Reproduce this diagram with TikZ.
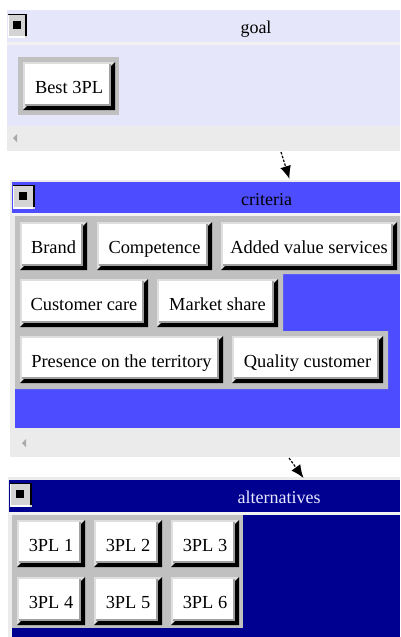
\documentclass[tikz,border=0pt]{standalone}
\usepackage{fontspec}
\setmainfont{Liberation Serif}
\usetikzlibrary{arrows.meta}

\definecolor{lav}{HTML}{E6E6FA}
\definecolor{frame}{HTML}{EBEBEB}
\definecolor{sepline}{HTML}{F2F2F2}
\definecolor{critblue}{HTML}{4D4DFF}
\definecolor{altblue}{HTML}{000090}
\definecolor{holder}{HTML}{C0C0C0}
\definecolor{btnlight}{HTML}{DEDEDE}
\definecolor{btnmid}{HTML}{A0A0A0}
\definecolor{minface}{HTML}{D4D4D4}
\definecolor{scrolltip}{HTML}{A8A8A8}
\definecolor{alttext}{HTML}{E8E8FF}

\tikzset{
  % raised push button with a thick dark shadow on the lower right
  btn/.style={fill=white, inner sep=0pt, text height=15pt, text depth=0pt,
    font=\fontsize{18.4}{21}\selectfont, text=black,
    path picture={
      \fill[btnlight] (path picture bounding box.south west) rectangle (path picture bounding box.north east);
      \fill[black] (path picture bounding box.south west)
        -- (path picture bounding box.south east)
        -- (path picture bounding box.north east)
        -- ([xshift=-4pt,yshift=-4pt]path picture bounding box.north east)
        -- ([xshift=-4pt,yshift=4pt]path picture bounding box.south east)
        -- ([xshift=4pt,yshift=4pt]path picture bounding box.south west) -- cycle;
      \fill[btnmid] ([xshift=2pt,yshift=-2pt]path picture bounding box.north west)
        rectangle ([xshift=-4pt,yshift=4pt]path picture bounding box.south east);
      \fill[white] ([xshift=2pt,yshift=-2pt]path picture bounding box.north west)
        rectangle ([xshift=-6pt,yshift=6pt]path picture bounding box.south east);
    }},
  % small window button in each title bar
  minibtn/.style={fill=minface, inner sep=0pt, minimum height=24pt,
    path picture={
      \fill[black] ([yshift=2pt]path picture bounding box.south west)
        rectangle (path picture bounding box.north east);
      \fill[white] (path picture bounding box.south west)
        rectangle ([xshift=-2pt,yshift=-1pt]path picture bounding box.north east);
      \fill[minface] ([xshift=1pt,yshift=2pt]path picture bounding box.south west)
        rectangle ([xshift=-2pt,yshift=-1pt]path picture bounding box.north east);
      \fill[black] ([xshift=-5pt,yshift=-3pt]path picture bounding box.center)
        rectangle ([xshift=3pt,yshift=5pt]path picture bounding box.center);
    }},
  title/.style={anchor=base, inner sep=0pt, font=\fontsize{18}{21}\selectfont},
  link/.style={draw=black, line width=1.2pt, dash pattern=on 2.5pt off 1.5pt,
    -{Latex[length=13pt,width=11pt]}}
}

\begin{document}
\begin{tikzpicture}[x=1pt,y=-1pt]
\useasboundingbox (0,0) rectangle (400,637);
\fill[white] (0,0) rectangle (400,637);

% ---------- goal panel ----------
\fill[frame] (7,10) rectangle (400,151);
\fill[lav] (7,10) rectangle (400,42);
\fill[sepline] (7,42) rectangle (400,45);
\fill[lav] (7,45) rectangle (400,126);
\fill[scrolltip] (13,138) -- (17,134) -- (17,142) -- cycle;
\node[minibtn, minimum width=19pt] (goalbtn) at (17.5,25.5) {};
\node[title] (goaltitle) at (256,33) {goal};
\fill[holder] (18,57) rectangle (119,115);
\node[btn, minimum width=92pt, minimum height=48pt] (best) at (69,86) {Best 3PL};

% ---------- criteria panel ----------
\fill[frame] (10,180) rectangle (400,457);
\fill[critblue] (12,182) rectangle (400,213);
\fill[sepline] (12,213) rectangle (400,216);
\fill[critblue] (15,216) rectangle (400,428);
\fill[scrolltip] (22,443) -- (26,439) -- (26,447) -- cycle;
\node[minibtn, minimum width=22pt] (critbtn) at (24,197) {};
\node[title] (crittitle) at (266.5,205) {criteria};
\fill[holder] (15,216) -- (400,216) -- (400,274) -- (283,274) -- (283,331)
  -- (388,331) -- (388,389) -- (15,389) -- cycle;
\node[btn, minimum width=67pt, minimum height=48pt] (brand) at (53.5,246) {Brand};
\node[btn, minimum width=115pt, minimum height=48pt] (comp) at (154.5,246) {Competence};
\node[btn, minimum width=176pt, minimum height=48pt] (added) at (309,246) {Added value services};
\node[btn, minimum width=128pt, minimum height=48pt] (care) at (84,303) {Customer care};
\node[btn, minimum width=121pt, minimum height=48pt] (share) at (217.5,303) {Market share};
\node[btn, minimum width=203pt, minimum height=47pt] (presence) at (121.5,359.5) {Presence on the territory};
\node[btn, minimum width=151pt, minimum height=47pt] (quality) at (307.5,359.5) {Quality customer};

% ---------- alternatives panel ----------
\fill[frame] (8,477) rectangle (400,637);
\fill[altblue] (9,480) rectangle (400,512);
\fill[sepline] (9,512) rectangle (400,515);
\fill[altblue] (12,515) rectangle (400,637);
\node[minibtn, minimum width=22pt] (altbtn) at (21,495) {};
\node[title, text=alttext] (alttitle) at (279,503) {alternatives};
\fill[holder] (12,515) rectangle (243,628);
\node[btn, minimum width=68pt, minimum height=47pt] (a1) at (51,543.5) {3PL 1};
\node[btn, minimum width=68pt, minimum height=47pt] (a2) at (128,543.5) {3PL 2};
\node[btn, minimum width=68pt, minimum height=47pt] (a3) at (205,543.5) {3PL 3};
\node[btn, minimum width=68pt, minimum height=48pt] (a4) at (51,601) {3PL 4};
\node[btn, minimum width=68pt, minimum height=48pt] (a5) at (128,601) {3PL 5};
\node[btn, minimum width=68pt, minimum height=48pt] (a6) at (205,601) {3PL 6};

% ---------- links between levels ----------
\coordinate (goalout) at (281,152);
\coordinate (critin) at (289.5,179);
\coordinate (critout) at (289,458);
\coordinate (altin) at (303.5,478);
\draw[link] (goalout) -- (critin);
\draw[link] (critout) -- (altin);
\end{tikzpicture}
\end{document}
